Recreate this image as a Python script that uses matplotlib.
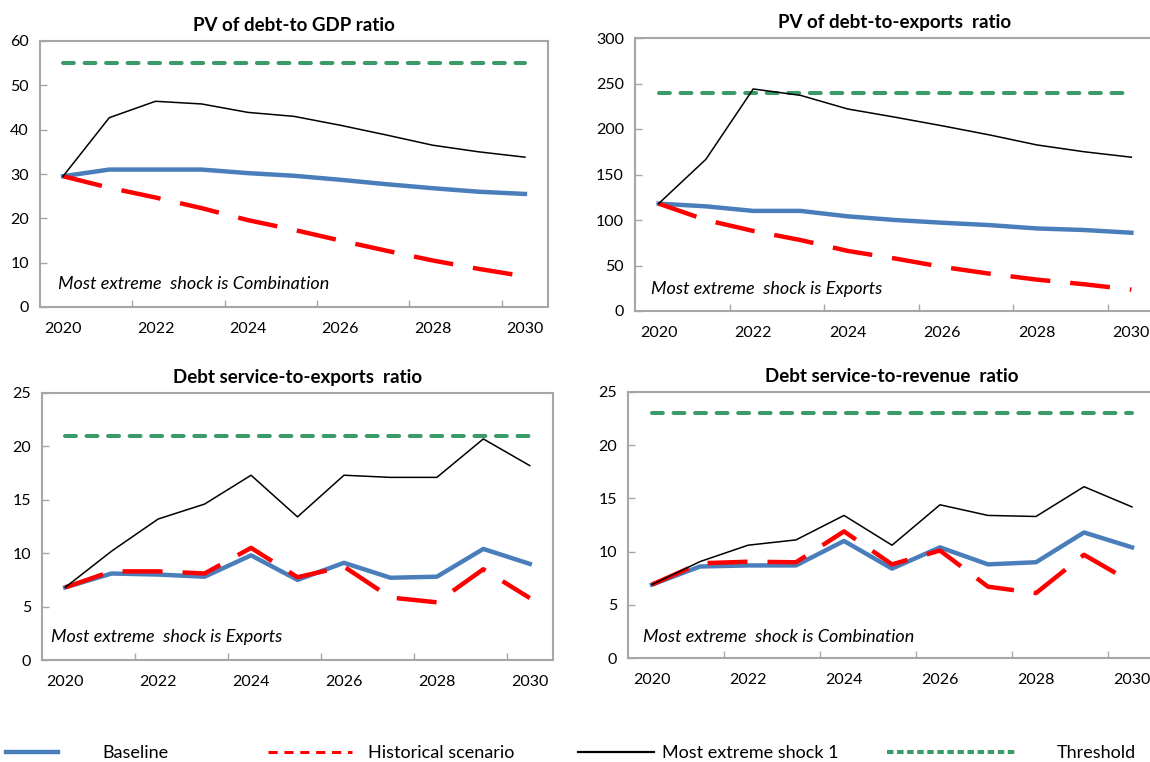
import numpy as np
import matplotlib
matplotlib.use('Agg')
import matplotlib.pyplot as plt
from matplotlib.lines import Line2D

plt.rcParams['font.family'] = ['Lato', 'DejaVu Sans']

years = np.arange(2020, 2031)
year_labels = ['2020', '2022', '2024', '2026', '2028', '2030']

# PV of debt-to GDP ratio
gdp_base = [29.5, 31.0, 31.0, 31.0, 30.2, 29.6, 28.7, 27.7, 26.8, 26.0, 25.5]
gdp_hist = [29.5, 26.9, 24.7, 22.3, 19.6, 17.4, 15.0, 12.7, 10.5, 8.6, 6.9]
gdp_shock = [29.5, 42.7, 46.4, 45.8, 43.9, 43.0, 41.0, 38.8, 36.5, 35.0, 33.8]
gdp_thr = [55] * 11

# PV of debt-to-exports ratio
exp_base = [118, 115, 110, 110, 104, 100, 97, 94.4, 90.7, 89, 86]
exp_hist = [118, 100, 88, 78, 66, 57.7, 48.5, 41, 34.5, 29.4, 23.5]
exp_shock = [118, 166.7, 244, 237, 222, 213, 203.5, 193.5, 182.5, 175, 169]
exp_thr = [240] * 11

# Debt service-to-exports ratio
dse_base = [6.8, 8.1, 8.0, 7.8, 9.8, 7.5, 9.1, 7.7, 7.8, 10.4, 9.0]
dse_hist = [6.8, 8.3, 8.3, 8.1, 10.5, 7.75, 8.75, 5.85, 5.4, 8.5, 5.8]
dse_shock = [6.8, 10.2, 13.2, 14.6, 17.3, 13.4, 17.3, 17.1, 17.1, 20.7, 18.2]
dse_thr = [21] * 11

# Debt service-to-revenue ratio
dsr_base = [6.9, 8.6, 8.7, 8.7, 11.0, 8.4, 10.4, 8.8, 9.0, 11.8, 10.4]
dsr_hist = [6.9, 8.9, 9.05, 9.0, 11.9, 8.8, 10.1, 6.7, 6.1, 9.7, 7.1]
dsr_shock = [6.9, 9.06, 10.6, 11.1, 13.4, 10.6, 14.4, 13.4, 13.3, 16.1, 14.2]
dsr_thr = [23] * 11

blue = '#4A7EBB'
red = '#FF0000'
green = '#3A9A68'
frame = '#A6A6A6'

fig = plt.figure(figsize=(11.5, 7.62), dpi=100)

W, H = 1150, 762
def box(l, t, r, b):
    return [l / W, 1 - b / H, (r - l) / W, (b - t) / H]

panels = [
    (box(40, 41, 548, 307), 'PV of debt-to GDP ratio', gdp_base, gdp_hist, gdp_shock, gdp_thr,
     (0, 60), 10, 'Most extreme  shock is Combination', (0.035, 0.086)),
    (box(635, 38, 1155, 311), 'PV of debt-to-exports  ratio', exp_base, exp_hist, exp_shock, exp_thr,
     (0, 300), 50, 'Most extreme  shock is Exports', (0.031, 0.08)),
    (box(42, 393, 553, 660), 'Debt service-to-exports  ratio', dse_base, dse_hist, dse_shock, dse_thr,
     (0, 25), 5, 'Most extreme  shock is Exports', (0.018, 0.086)),
    (box(628, 392, 1156, 658), 'Debt service-to-revenue  ratio', dsr_base, dsr_hist, dsr_shock, dsr_thr,
     (0, 25), 5, 'Most extreme  shock is Combination', (0.028, 0.08)),
]

for rect, title, base, hist, shock, thr, ylim, ystep, note, npos in panels:
    ax = fig.add_axes(rect)
    ax.plot(years, thr, color=green, lw=2.9, dashes=(2.7, 2.65), dash_capstyle='round', zorder=2)
    ax.plot(years, base, color=blue, lw=3.2, solid_joinstyle='round', zorder=3)
    ax.plot(years, hist, color=red, lw=3.2, dashes=(9, 4.5), zorder=4)
    ax.plot(years, shock, color='black', lw=1.1, zorder=5)

    ax.set_xlim(2019.5, 2030.5)
    ax.set_ylim(*ylim)
    ax.set_yticks(np.arange(ylim[0], ylim[1] + ystep / 2, ystep))
    ax.set_xticks(years[::2])
    ax.set_xticklabels(year_labels)
    ax.set_xticks(np.arange(2021.5, 2030, 2), minor=True)
    ax.tick_params(axis='x', which='major', length=0, pad=11, labelsize=11.5)
    ax.tick_params(axis='x', which='minor', length=5, direction='in', color=frame, width=1)
    ax.tick_params(axis='y', length=5, direction='in', color=frame, width=1, pad=8, labelsize=11.5)
    for s in ax.spines.values():
        s.set_color(frame)
        s.set_linewidth(1.5)
    ax.set_title(title, fontsize=13.5, fontweight='bold', pad=7)
    ax.text(npos[0], npos[1], note, transform=ax.transAxes, fontsize=13, style='italic',
            va='center', ha='left')

# legend, spread like the original
entries = [
    (Line2D([], [], color=blue, lw=3.2), 'Baseline', 0.005, 2.9, 2.45),
    (Line2D([], [], color=red, lw=2.2, dashes=(3, 2.2)), 'Historical scenario', 0.233, 4.65, 0.9),
    (Line2D([], [], color='black', lw=1.6), 'Most extreme shock 1', 0.503, 4.2, 0.45),
    (Line2D([], [], color=green, lw=2.9, dashes=(1.6, 0.9)), 'Threshold', 0.771, 7.1, 2.3),
]
for h, lab, x0, hl, tp in entries:
    fig.legend([h], [lab], loc='center left', bbox_to_anchor=(x0, 1 - 753 / H), frameon=False,
               fontsize=13, handlelength=hl, handletextpad=tp, borderpad=0, borderaxespad=0)

fig.savefig('out.png', dpi=100)
